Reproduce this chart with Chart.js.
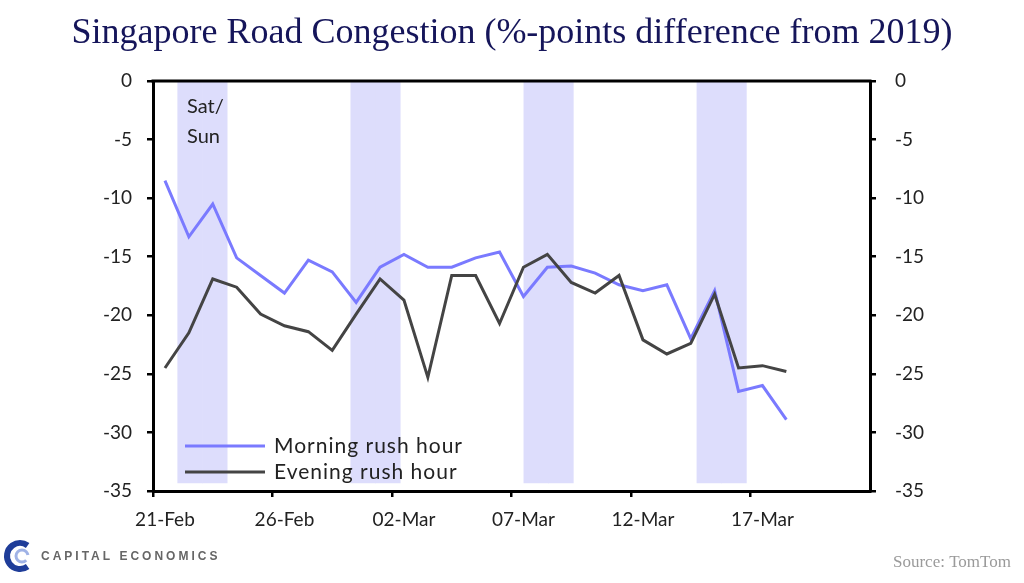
<!DOCTYPE html>
<html>
<head>
<meta charset="utf-8">
<script src="https://cdn.jsdelivr.net/npm/chart.js@4"></script>
<style>
  html, body { margin: 0; padding: 0; background: #fff; }
  canvas { display: block; }
</style>
</head>
<body>
<canvas id="congestionChart" width="1024" height="583"></canvas>
<script>
// Daily categories (30 days, 21-Feb to 21-Mar 2020)
const days = [
  "21-Feb", "22-Feb", "23-Feb", "24-Feb", "25-Feb", "26-Feb", "27-Feb", "28-Feb", "29-Feb", "01-Mar",
  "02-Mar", "03-Mar", "04-Mar", "05-Mar", "06-Mar", "07-Mar", "08-Mar", "09-Mar", "10-Mar", "11-Mar",
  "12-Mar", "13-Mar", "14-Mar", "15-Mar", "16-Mar", "17-Mar", "18-Mar", "19-Mar", "20-Mar", "21-Mar",
];

// %-points difference from 2019
const morning = [
  -8.5, -13.3, -10.5, -15.1, -16.6, -18.1, -15.3, -16.3, -18.9,
  -15.9, -14.8, -15.9, -15.9, -15.1, -14.6, -18.4, -15.9, -15.8,
  -16.4, -17.4, -17.9, -17.4, -22.0, -17.9, -26.5, -26.0, -28.9,
];
const evening = [
  -24.5, -21.5, -16.9, -17.6, -19.9, -20.9, -21.4, -23.0, -19.9,
  -16.9, -18.7, -25.3, -16.6, -16.6, -20.7, -15.9, -14.8, -17.2,
  -18.1, -16.6, -22.1, -23.3, -22.4, -18.2, -24.5, -24.3, -24.8,
];

// Weekend shading sits on its own (29 slot) axis
const shadeSlots = [
  "s0", "s1", "s2", "s3", "s4", "s5", "s6", "s7", "s8", "s9",
  "s10", "s11", "s12", "s13", "s14", "s15", "s16", "s17", "s18", "s19",
  "s20", "s21", "s22", "s23", "s24", "s25", "s26", "s27", "s28",
];
const weekendSlots = [1, 2, 8, 9, 15, 16, 22, 23];
const shadeRange = [-34.3, 0];

const yTicks = [0, -5, -10, -15, -20, -25, -30, -35];

const tickFont = { family: "Lato", size: 19 };

// title, legend, notes and footer
const decorations = {
  id: "decorations",
  afterDraw(chart) {
    const ctx = chart.ctx;
    const area = chart.chartArea;
    ctx.save();

    // top frame line
    ctx.strokeStyle = "#000";
    ctx.lineWidth = 3;
    ctx.beginPath();
    ctx.moveTo(area.left - 1.5, area.top);
    ctx.lineTo(area.right + 1.5, area.top);
    ctx.stroke();

    // title
    ctx.fillStyle = "#15155a";
    ctx.font = "36px 'Liberation Serif'";
    ctx.textAlign = "center";
    ctx.textBaseline = "middle";
    ctx.fillText("Singapore Road Congestion (%-points difference from 2019)", 512, 34);

    // Sat/Sun note
    ctx.fillStyle = "#222";
    ctx.font = "20px Lato";
    ctx.textAlign = "left";
    ctx.fillText("Sat/", 187, 107);
    ctx.fillText("Sun", 187, 137);

    // legend
    const items = [
      { label: chart.data.datasets[0].label, color: chart.data.datasets[0].borderColor, y: 446 },
      { label: chart.data.datasets[1].label, color: chart.data.datasets[1].borderColor, y: 472 },
    ];
    items.forEach((it) => {
      ctx.strokeStyle = it.color;
      ctx.lineWidth = 3;
      ctx.beginPath();
      ctx.moveTo(185, it.y);
      ctx.lineTo(265, it.y);
      ctx.stroke();
      ctx.fillStyle = "#222";
      ctx.font = "21px Lato";
      ctx.letterSpacing = "1px";
      ctx.fillText(it.label, 274, it.y);
      ctx.letterSpacing = "0px";
    });

    // logo
    ctx.strokeStyle = "#1f3d99";
    ctx.lineWidth = 6;
    ctx.beginPath();
    ctx.arc(20, 556, 13, 0.3 * Math.PI, 1.7 * Math.PI);
    ctx.stroke();
    ctx.strokeStyle = "#9fb2e6";
    ctx.lineWidth = 3;
    ctx.beginPath();
    ctx.arc(22, 556, 6, 0.25 * Math.PI, 1.95 * Math.PI);
    ctx.stroke();
    ctx.fillStyle = "#666";
    ctx.font = "bold 12px 'Liberation Sans'";
    ctx.letterSpacing = "3px";
    ctx.fillText("CAPITAL ECONOMICS", 41, 557);
    ctx.letterSpacing = "0px";

    // source
    ctx.fillStyle = "#9a9a9a";
    ctx.font = "17px 'Liberation Serif'";
    ctx.textAlign = "right";
    ctx.fillText("Source: TomTom", 1011, 563);

    ctx.restore();
  },
};

const congestionChart = new Chart(document.getElementById("congestionChart"), {
  type: "line",
  data: {
    labels: days,
    datasets: [
      {
        label: "Morning rush hour",
        data: morning,
        borderColor: "rgb(122, 122, 255)",
        borderWidth: 3,
        pointRadius: 0,
        tension: 0,
        order: 1,
      },
      {
        label: "Evening rush hour",
        data: evening,
        borderColor: "rgb(68, 68, 68)",
        borderWidth: 3,
        pointRadius: 0,
        tension: 0,
        order: 0,
      },
      {
        type: "bar",
        label: "Sat/Sun",
        xAxisID: "x2",
        yAxisID: "y",
        data: shadeSlots.map((s, i) => (weekendSlots.includes(i) ? shadeRange : null)),
        backgroundColor: "rgb(221, 221, 252)",
        barPercentage: 1,
        categoryPercentage: 1,
        grouped: false,
        order: 5,
      },
    ],
  },
  options: {
    responsive: false,
    animation: false,
    layout: { padding: { top: 81, left: 0, right: 0, bottom: 0 } },
    plugins: {
      legend: { display: false },
      tooltip: { enabled: false },
      title: { display: false },
    },
    scales: {
      x: {
        type: "category",
        offset: true,
        grid: {
          offset: true,
          drawOnChartArea: false,
          drawTicks: true,
          tickLength: 6,
          lineWidth: 2.5,
          color: (c) => (c.index % 5 === 0 ? "#000" : "rgba(0,0,0,0)"),
        },
        border: { color: "#000", width: 3 },
        ticks: {
          autoSkip: false,
          maxRotation: 0,
          minRotation: 0,
          padding: 11,
          color: "#222",
          font: tickFont,
          callback: function (v, i) {
            return i % 5 === 0 ? this.getLabelForValue(v) : "";
          },
        },
        afterFit: (s) => { s.height = 92; },
      },
      x2: {
        type: "category",
        labels: shadeSlots,
        offset: true,
        display: false,
      },
      y: {
        position: "left",
        min: -35,
        max: 0,
        afterBuildTicks: (s) => { s.ticks = yTicks.map((v) => ({ value: v })); },
        grid: { drawOnChartArea: false, tickLength: 6, lineWidth: 2.5, color: "#000" },
        border: { color: "#000", width: 3 },
        ticks: { padding: 15, color: "#222", font: tickFont },
        afterFit: (s) => { s.width = 153; },
      },
      y2: {
        position: "right",
        min: -35,
        max: 0,
        afterBuildTicks: (s) => { s.ticks = yTicks.map((v) => ({ value: v })); },
        grid: { drawOnChartArea: false, tickLength: 6, lineWidth: 2.5, color: "#000" },
        border: { color: "#000", width: 3 },
        ticks: { padding: 19, color: "#222", font: tickFont },
        afterFit: (s) => { s.width = 154; },
      },
    },
  },
  plugins: [decorations],
});
</script>
</body>
</html>
